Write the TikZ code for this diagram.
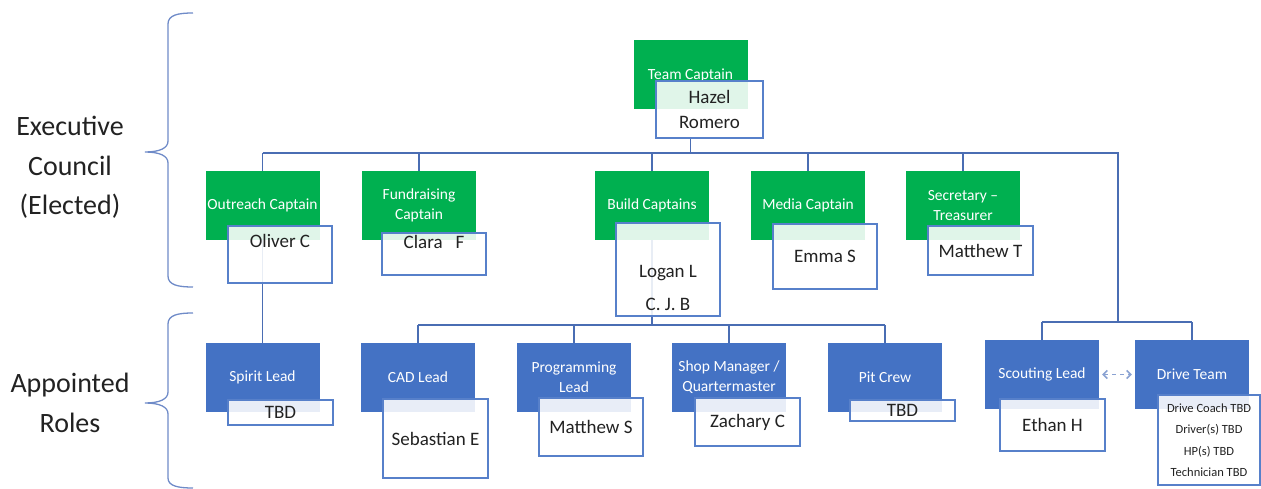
\documentclass[tikz,border=0pt]{standalone}
\usepackage{fontspec}
\setmainfont{Carlito}
\usepackage{tikz}
\usetikzlibrary{arrows.meta, calc, backgrounds}
\definecolor{capgreen}{HTML}{00B050}
\definecolor{leadblue}{HTML}{4472C4}
\definecolor{wireblue}{HTML}{4A6DB3}
\definecolor{bracecol}{HTML}{6F8BC8}
\definecolor{arrowcol}{HTML}{8AA2D2}
\definecolor{namegray}{HTML}{222222}
\tikzset{
  captain/.style={fill=capgreen, text=white, minimum width=114pt, minimum height=69pt,
    inner sep=0pt, align=center, font=\fontsize{15.5}{20}\selectfont},
  lead/.style={captain, fill=leadblue},
  namebox/.style 2 args={draw=leadblue!90, line width=1.1pt, fill=white, fill opacity=0.88,
    inner sep=0pt, minimum width=#1pt, minimum height=#2pt},
  nametext/.style={text=namegray, align=center, fill opacity=1, text opacity=1,
    font=\fontsize{19}{25}\selectfont},
  wire/.style={draw=wireblue, line width=1.3pt},
  sidetext/.style={text=namegray, align=center, font=\fontsize{28}{39.5}\selectfont},
}
\begin{document}
\begin{tikzpicture}[x=1pt, y=-1pt]
	\useasboundingbox (0,0) rectangle (1261,489);

	% elected
	\node[captain] (capt) at (690.5,75) {Team Captain};
	\node[namebox={107}{57}, label={[nametext]center:Hazel\\Romero}] (hazel) at (709.5,109.5) {};

	\node[captain] (outreach) at (262.5,205.5) {Outreach Captain};
	\node[namebox={104}{57}, label={[nametext, yshift=14pt]center:Oliver C}] (oliver) at (280,254.5) {};
	\node[captain] (fund) at (419,205.5) {Fundraising\\Captain};
	\node[namebox={104}{42}, label={[nametext, yshift=12pt]center:Clara\ \ \ F}] (clara) at (434,254) {};
	\node[captain] (build) at (652,205.5) {Build Captains};
	\node[namebox={104}{93}, label={[nametext, font=\fontsize{19}{33}\selectfont, yshift=-18pt]center:Logan L\\C. J. B}] (logan) at (668,269.5) {};
	\node[captain] (media) at (808,205.5) {Media Captain};
	\node[namebox={104}{65}, label={[nametext]center:Emma S}] (emma) at (825,256.5) {};
	\node[captain] (secr) at (963,205.5) {Secretary --\\Treasurer};
	\node[namebox={105}{49}, label={[nametext]center:Matthew T}] (mattT) at (980.5,250.5) {};

	% appointed
	\node[lead] (spirit) at (262.5,377.5) {Spirit Lead};
	\node[namebox={105}{25}, label={[nametext]center:TBD}] (spiritN) at (280.5,412.5) {};
	\node[lead] (cad) at (418,377.5) {CAD Lead};
	\node[namebox={105}{79}, label={[nametext]center:Sebastian E}] (cadN) at (435.5,438.5) {};
	\node[lead] (prog) at (574,377.5) {Programming\\Lead};
	\node[namebox={104}{58}, label={[nametext]center:Matthew S}] (progN) at (591,427) {};
	\node[lead] (shop) at (729,377.5) {Shop Manager /\\Quartermaster};
	\node[namebox={105}{48}, label={[nametext]center:Zachary C}] (shopN) at (747.5,422) {};
	\node[lead] (pit) at (885,377.5) {Pit Crew};
	\node[namebox={105}{21}, label={[nametext]center:TBD}] (pitN) at (902.5,410.5) {};
	\node[lead] (scout) at (1042,374.5) {Scouting Lead};
	\node[namebox={105}{52}, label={[nametext]center:Ethan H}] (ethan) at (1052.5,425) {};
	\node[lead] (drive) at (1192,374.5) {Drive Team};
	\node[namebox={102}{90}, label={[nametext, font=\fontsize{12.5}{21.5}\selectfont]center:Drive Coach TBD\\Driver(s) TBD\\HP(s) TBD\\Technician TBD}] (driveN) at (1209,440) {};

	\draw[draw=arrowcol, line width=1.6pt, dash pattern=on 4pt off 4pt,
		{Straight Barb[length=4pt, width=8pt]}-{Straight Barb[length=4pt, width=8pt]}, shorten <=3pt, shorten >=3pt]
		(scout.east) -- (drive.west);

	% tree lines, behind the boxes
	\begin{pgfonlayer}{background}
	\coordinate (topbus) at (1118,153);
	\coordinate (rightbus) at (1118,322);
	\coordinate (leadbus) at (652,325);
	\draw[wire] (capt |- hazel.south) -- (capt |- topbus);
	\draw[wire] (outreach.north |- topbus) -- (topbus) -- (rightbus);
	\foreach \n in {outreach, fund, build, media, secr}
		\draw[wire] (\n.north |- topbus) -- (\n.north);
	\draw[wire] (scout.north |- rightbus) -- (drive.north |- rightbus);
	\foreach \n in {scout, drive}
		\draw[wire] (\n.north |- rightbus) -- (\n.north);
	\draw[wire] (outreach.south) -- (spirit.north);
	\draw[wire] (build.south) -- (leadbus);
	\draw[wire] (cad.north |- leadbus) -- (pit.north |- leadbus);
	\foreach \n in {cad, prog, shop, pit}
		\draw[wire] (\n.north |- leadbus) -- (\n.north);
	\end{pgfonlayer}

	% braces and side labels
	\draw[bracecol, line width=1.3pt] (193,13) .. controls (178,13) and (168,15) .. (168,24) -- (168,141)
		.. controls (168,148) and (160,152) .. (145,152) .. controls (160,152) and (168,156) .. (168,163)
		-- (168,276) .. controls (168,285) and (178,287) .. (193,287);
	\draw[bracecol, line width=1.3pt] (193,313) .. controls (178,313) and (168,315) .. (168,324) -- (168,392)
		.. controls (168,399) and (160,403) .. (145,403) .. controls (160,403) and (168,407) .. (168,414)
		-- (168,478) .. controls (168,486) and (178,488) .. (193,488);
	\node[sidetext] (exec) at (70,167.5) {Executive\\Council\\(Elected)};
	\node[sidetext] (appt) at (70,403) {Appointed\\Roles};
\end{tikzpicture}
\end{document}
